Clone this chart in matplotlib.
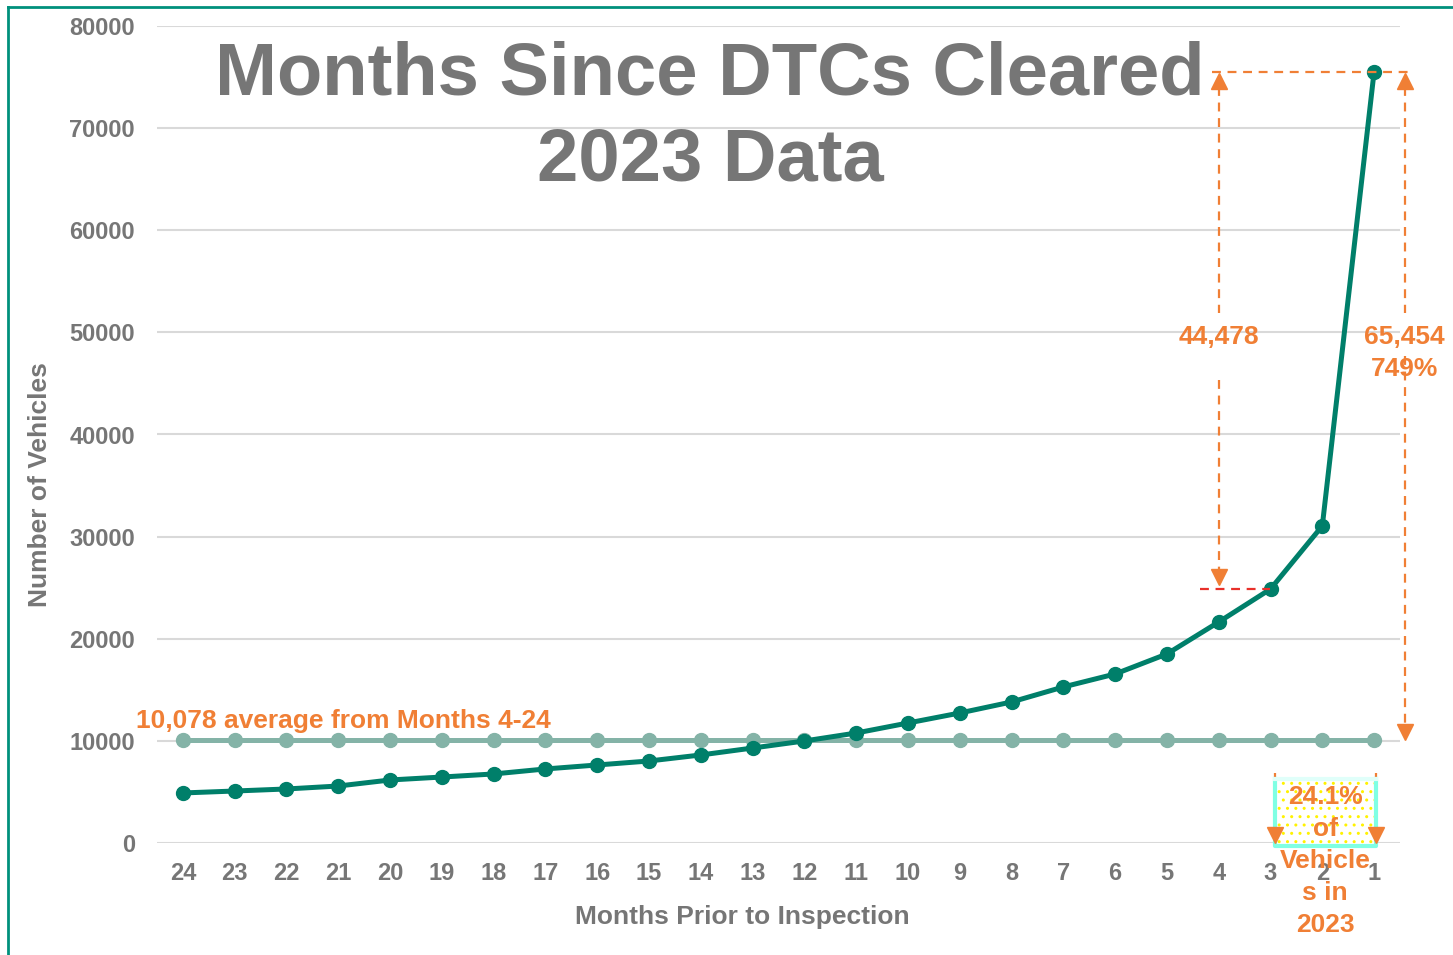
import matplotlib
matplotlib.use("Agg")
import matplotlib.pyplot as plt
from matplotlib.lines import Line2D
from matplotlib.patches import Rectangle
import numpy as np

plt.rcParams["font.family"] = ["Liberation Sans", "DejaVu Sans"]
plt.rcParams["font.weight"] = "bold"

months = [24, 23, 22, 21, 20, 19, 18, 17, 16, 15, 14, 13, 12, 11, 10, 9, 8, 7, 6, 5, 4, 3, 2, 1]
vehicles = [4900, 5090, 5290, 5580, 6170, 6460, 6760, 7250, 7640, 8030, 8620, 9300,
            9990, 10770, 11750, 12730, 13810, 15280, 16550, 18510, 21640, 24870, 31054, 75532]
average = [10078] * 24
yticks = [0, 10000, 20000, 30000, 40000, 50000, 60000, 70000, 80000]

GRAY = "#767676"
ORANGE = "#F07F35"
TEAL = "#007F6A"
AVG = "#84B3A7"

fig = plt.figure(figsize=(14.53, 9.55), dpi=100)
ax = fig.add_axes([157 / 1453, 1 - 843 / 955, 1243 / 1453, 817 / 955])

x = np.arange(len(months))
ax.plot(x, average, color=AVG, lw=3.6, marker="o", ms=10, zorder=3)
ax.plot(x, vehicles, color=TEAL, lw=3.6, marker="o", ms=10, zorder=4)

ax.set_xlim(-0.5, len(months) - 0.5)
ax.set_ylim(0, 80000)
ax.set_xticks(x)
ax.set_xticklabels([str(m) for m in months])
ax.set_yticks(yticks)
ax.set_yticklabels([str(v) for v in yticks])
ax.tick_params(axis="both", length=0, labelsize=17, labelcolor=GRAY)
ax.tick_params(axis="y", pad=16)
ax.tick_params(axis="x", pad=14)
ax.grid(axis="y", color="#d9d9d9", lw=1.5)
ax.set_axisbelow(True)
for s in ax.spines.values():
    s.set_visible(False)

fig.text(40 / 1453, 1 - 485 / 955, "Number of Vehicles", rotation=90, ha="center", va="center",
         fontsize=19, color=GRAY, fontweight="bold")
fig.text(742 / 1453, 1 - 917 / 955, "Months Prior to Inspection", ha="center", va="center",
         fontsize=19, color=GRAY, fontweight="bold")

# title
ax.text(0.445, 0.940, "Months Since DTCs Cleared", transform=ax.transAxes, ha="center", va="center",
        fontsize=53.5, color=GRAY, fontweight="bold")
ax.text(0.445, 0.835, "2023 Data", transform=ax.transAxes, ha="center", va="center",
        fontsize=53.5, color=GRAY, fontweight="bold")

# average label
ax.text(-0.9, 11900, "10,078 average from Months 4-24", ha="left", va="center",
        fontsize=19, color=ORANGE, fontweight="bold")

top = vehicles[-1]
avg = average[0]
dash = dict(color=ORANGE, lw=1.6, ls=(0, (4, 3)), clip_on=False, zorder=5)

# horizontal dashed at peak
ax.plot([19.87, 23.7], [top, top], **dash)

# left arrow: peak vs month 3 level
xl = 20.0
ax.plot([xl, xl], [top - 1500, 51900], **dash)
ax.plot([xl, xl], [45300, 25800], **dash)
ax.plot([xl], [top - 900], marker="^", ms=11, color=ORANGE, clip_on=False, zorder=6)
ax.plot([xl], [26000], marker="v", ms=11, color=ORANGE, clip_on=False, zorder=6)
ax.plot([19.63, 20.99], [vehicles[-3], vehicles[-3]], color="#E8302A", lw=1.6, ls=(0, (4, 3)), zorder=5)
ax.text(xl, 49500, "44,478", ha="center", va="center", fontsize=19, color=ORANGE, fontweight="bold")

# right arrow: peak vs average
xr = 23.59
ax.plot([xr, xr], [top - 1500, 51900], **dash)
ax.plot([xr, xr], [47700, avg + 1000], **dash)
ax.plot([xr], [top - 900], marker="^", ms=11, color=ORANGE, clip_on=False, zorder=6)
ax.plot([xr], [avg + 800], marker="v", ms=11, color=ORANGE, clip_on=False, zorder=6)
ax.text(xr, 49500, "65,454", ha="center", va="center", fontsize=19, color=ORANGE, fontweight="bold")
ax.text(xr, 46400, "749%", ha="center", va="center", fontsize=19, color=ORANGE, fontweight="bold")

# box over last three months
bx0, bx1 = 21.08, 23.03
ax.add_patch(Rectangle((bx0, -300), bx1 - bx0, 6600, facecolor="white", edgecolor="#FFF200",
                       hatch="..", lw=0, clip_on=False, zorder=5))
ax.plot([bx0, bx0, bx1, bx1], [6300, -300, -300, 6300], color="#7FFFE4", lw=3, clip_on=False, zorder=6)
ax.plot([bx0, bx1], [6300, 6300], color="#E0FFFA", lw=3, clip_on=False, zorder=6)
for bx in (bx0, bx1):
    ax.plot([bx, bx], [6850, 900], **dash)
    ax.plot([bx], [800], marker="v", ms=11, color=ORANGE, clip_on=False, zorder=7)
yb = 843
for i, line in enumerate(["24.1%", "of", "Vehicle", "s in", "2023"]):
    py = 797 + i * 32
    ax.text((bx0 + bx1) / 2, (yb - py) / 817 * 80000, line, ha="center", va="center",
            fontsize=19, color=ORANGE, fontweight="bold", clip_on=False, zorder=8)

# slide border
fig.add_artist(Line2D([8 / 1453, 8 / 1453], [0, 1 - 7 / 955], transform=fig.transFigure, color="#00907C", lw=2))
fig.add_artist(Line2D([8 / 1453, 1], [1 - 7 / 955, 1 - 7 / 955], transform=fig.transFigure, color="#00907C", lw=2))

fig.savefig("out.png", dpi=100)
